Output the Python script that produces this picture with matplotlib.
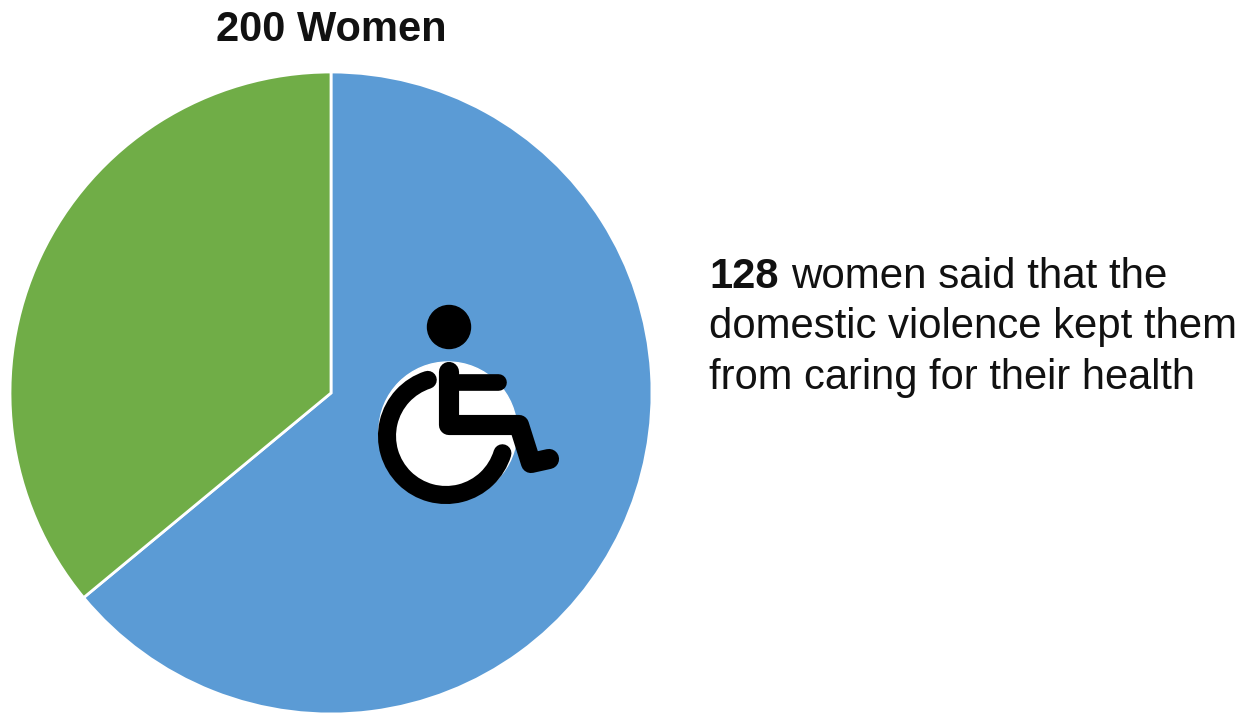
import matplotlib
matplotlib.use("Agg")
import matplotlib.pyplot as plt
from matplotlib.patches import Circle, Arc

plt.rcParams['font.family'] = ['Liberation Sans', 'DejaVu Sans']

# 128 of the 200 women answered yes
counts = [128, 72]
colors = ['#5b9bd5', '#70ad47']
title = "200 Women"
note_value = "128"
note_lines = ["women said that the", "domestic violence kept them", "from caring for their health"]

W, H = 1252, 713
fig = plt.figure(figsize=(W / 100, H / 100), dpi=100)

# pie in a square axes
left, top, d = 10, 72, 642
axPie = fig.add_axes([left / W, 1 - (top + d) / H, d / W, d / H])
axPie.pie(counts, colors=colors, startangle=90, counterclock=False, radius=1,
          wedgeprops=dict(edgecolor='white', linewidth=2))
axPie.set_xlim(-1, 1)
axPie.set_ylim(-1, 1)

# overlay in pixel coordinates for the icon and text
ax = fig.add_axes([0, 0, 1, 1])
ax.set_xlim(0, W)
ax.set_ylim(H, 0)
ax.axis('off')

ax.text(331, 30, title, fontsize=30, fontweight='bold', ha='center', va='center', color='#111111')

ax.text(709, 277, note_value, fontsize=30, fontweight='bold', ha='left', va='center', color='#111111')
ax.text(791, 277, note_lines[0], fontsize=30.3, ha='left', va='center', color='#111111')
ax.text(709, 327, note_lines[1], fontsize=30.2, ha='left', va='center', color='#111111')
ax.text(709, 378, note_lines[2], fontsize=30, ha='left', va='center', color='#111111')

# wheelchair icon
ax.add_patch(Circle((448, 431), 69, color='white', zorder=4))
ax.add_patch(Circle((449, 327), 21.5, color='black', zorder=5))
ax.add_patch(Arc((446, 436), 118, 118, theta1=17, theta2=252, color='black', lw=13,
                 capstyle='round', zorder=5))
ax.plot([449, 449, 519, 531, 549], [372, 425, 425, 463, 459], color='black', lw=14.5,
        solid_capstyle='round', solid_joinstyle='round', zorder=6)
ax.plot([449, 498], [382, 382], color='black', lw=12, solid_capstyle='round', zorder=6)

fig.savefig('out.png', dpi=100)
